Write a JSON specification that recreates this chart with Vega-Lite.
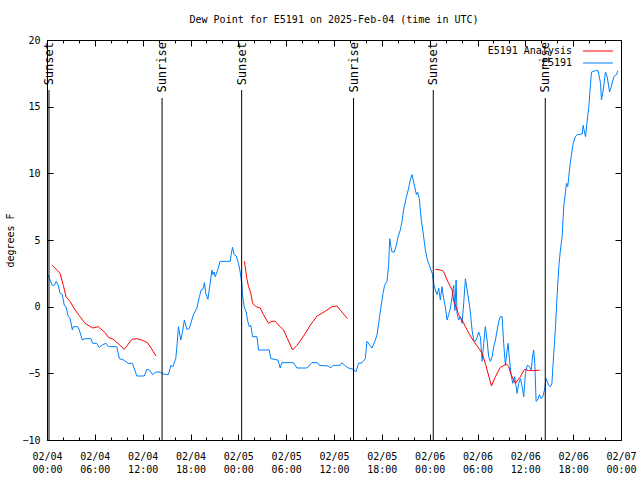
{
"$schema": "https://vega.github.io/schema/vega-lite/v6.json",
"width": 574,
"height": 400,
"autosize": {"type": "none"},
"padding": {"left": 47, "top": 40, "right": 19, "bottom": 40},
"background": "white",
"title": {"text": "Dew Point for E5191 on 2025-Feb-04 (time in UTC)", "font": "DejaVu Sans Mono", "fontSize": 10, "fontWeight": "normal", "color": "black", "offset": 10, "anchor": "middle"},
"config": {
  "view": {"stroke": "black", "strokeWidth": 1},
  "axis": {"tickColor": "black", "labelColor": "black", "titleColor": "black", "domain": false, "grid": false, "labelFont": "DejaVu Sans Mono", "labelFontSize": 10, "titleFont": "DejaVu Sans Mono", "titleFontSize": 10, "titleFontWeight": "normal"}
},
"datasets": {
"obs": [
{"series":"E5191","segment":0,"time":"2025-02-04T00:10:00Z","dewpoint":2.37},
{"series":"E5191","segment":0,"time":"2025-02-04T00:23:00Z","dewpoint":2.0},
{"series":"E5191","segment":0,"time":"2025-02-04T00:40:00Z","dewpoint":1.6},
{"series":"E5191","segment":0,"time":"2025-02-04T00:55:00Z","dewpoint":1.6},
{"series":"E5191","segment":0,"time":"2025-02-04T01:10:00Z","dewpoint":1.9},
{"series":"E5191","segment":0,"time":"2025-02-04T01:25:00Z","dewpoint":1.6},
{"series":"E5191","segment":0,"time":"2025-02-04T01:38:00Z","dewpoint":1.0},
{"series":"E5191","segment":0,"time":"2025-02-04T01:55:00Z","dewpoint":0.9},
{"series":"E5191","segment":0,"time":"2025-02-04T02:10:00Z","dewpoint":0.1},
{"series":"E5191","segment":0,"time":"2025-02-04T02:23:00Z","dewpoint":0.0},
{"series":"E5191","segment":0,"time":"2025-02-04T02:40:00Z","dewpoint":-0.75},
{"series":"E5191","segment":0,"time":"2025-02-04T02:53:00Z","dewpoint":-0.85},
{"series":"E5191","segment":0,"time":"2025-02-04T03:11:00Z","dewpoint":-1.75},
{"series":"E5191","segment":0,"time":"2025-02-04T03:18:00Z","dewpoint":-1.5},
{"series":"E5191","segment":0,"time":"2025-02-04T03:51:00Z","dewpoint":-1.5},
{"series":"E5191","segment":0,"time":"2025-02-04T04:03:00Z","dewpoint":-1.75},
{"series":"E5191","segment":0,"time":"2025-02-04T04:26:00Z","dewpoint":-2.5},
{"series":"E5191","segment":0,"time":"2025-02-04T04:46:00Z","dewpoint":-2.4},
{"series":"E5191","segment":0,"time":"2025-02-04T05:31:00Z","dewpoint":-2.4},
{"series":"E5191","segment":0,"time":"2025-02-04T05:44:00Z","dewpoint":-2.75},
{"series":"E5191","segment":0,"time":"2025-02-04T06:14:00Z","dewpoint":-2.75},
{"series":"E5191","segment":0,"time":"2025-02-04T06:34:00Z","dewpoint":-3.05},
{"series":"E5191","segment":0,"time":"2025-02-04T07:00:00Z","dewpoint":-2.85},
{"series":"E5191","segment":0,"time":"2025-02-04T07:24:00Z","dewpoint":-2.75},
{"series":"E5191","segment":0,"time":"2025-02-04T07:42:00Z","dewpoint":-3.0},
{"series":"E5191","segment":0,"time":"2025-02-04T08:45:00Z","dewpoint":-3.0},
{"series":"E5191","segment":0,"time":"2025-02-04T09:05:00Z","dewpoint":-3.9},
{"series":"E5191","segment":0,"time":"2025-02-04T09:35:00Z","dewpoint":-4.0},
{"series":"E5191","segment":0,"time":"2025-02-04T10:12:00Z","dewpoint":-4.25},
{"series":"E5191","segment":0,"time":"2025-02-04T10:43:00Z","dewpoint":-4.25},
{"series":"E5191","segment":0,"time":"2025-02-04T11:16:00Z","dewpoint":-5.2},
{"series":"E5191","segment":0,"time":"2025-02-04T12:13:00Z","dewpoint":-5.2},
{"series":"E5191","segment":0,"time":"2025-02-04T12:31:00Z","dewpoint":-4.7},
{"series":"E5191","segment":0,"time":"2025-02-04T12:51:00Z","dewpoint":-4.75},
{"series":"E5191","segment":0,"time":"2025-02-04T13:16:00Z","dewpoint":-5.1},
{"series":"E5191","segment":0,"time":"2025-02-04T13:39:00Z","dewpoint":-4.9},
{"series":"E5191","segment":0,"time":"2025-02-04T14:11:00Z","dewpoint":-4.9},
{"series":"E5191","segment":0,"time":"2025-02-04T14:32:00Z","dewpoint":-5.05},
{"series":"E5191","segment":0,"time":"2025-02-04T15:14:00Z","dewpoint":-5.1},
{"series":"E5191","segment":0,"time":"2025-02-04T15:32:00Z","dewpoint":-4.4},
{"series":"E5191","segment":0,"time":"2025-02-04T15:47:00Z","dewpoint":-4.5},
{"series":"E5191","segment":0,"time":"2025-02-04T16:09:00Z","dewpoint":-3.9},
{"series":"E5191","segment":0,"time":"2025-02-04T16:17:00Z","dewpoint":-3.1},
{"series":"E5191","segment":0,"time":"2025-02-04T16:29:00Z","dewpoint":-1.5},
{"series":"E5191","segment":0,"time":"2025-02-04T16:47:00Z","dewpoint":-2.5},
{"series":"E5191","segment":0,"time":"2025-02-04T17:02:00Z","dewpoint":-1.75},
{"series":"E5191","segment":0,"time":"2025-02-04T17:14:00Z","dewpoint":-1.0},
{"series":"E5191","segment":0,"time":"2025-02-04T17:32:00Z","dewpoint":-1.7},
{"series":"E5191","segment":0,"time":"2025-02-04T17:50:00Z","dewpoint":-1.65},
{"series":"E5191","segment":0,"time":"2025-02-04T18:10:00Z","dewpoint":-1.0},
{"series":"E5191","segment":0,"time":"2025-02-04T18:22:00Z","dewpoint":-0.6},
{"series":"E5191","segment":0,"time":"2025-02-04T18:48:00Z","dewpoint":-0.1},
{"series":"E5191","segment":0,"time":"2025-02-04T19:07:00Z","dewpoint":0.75},
{"series":"E5191","segment":0,"time":"2025-02-04T19:20:00Z","dewpoint":1.25},
{"series":"E5191","segment":0,"time":"2025-02-04T19:33:00Z","dewpoint":1.3},
{"series":"E5191","segment":0,"time":"2025-02-04T19:45:00Z","dewpoint":1.8},
{"series":"E5191","segment":0,"time":"2025-02-04T19:55:00Z","dewpoint":1.0},
{"series":"E5191","segment":0,"time":"2025-02-04T20:11:00Z","dewpoint":0.55},
{"series":"E5191","segment":0,"time":"2025-02-04T20:23:00Z","dewpoint":1.4},
{"series":"E5191","segment":0,"time":"2025-02-04T20:41:00Z","dewpoint":2.75},
{"series":"E5191","segment":0,"time":"2025-02-04T20:48:00Z","dewpoint":2.4},
{"series":"E5191","segment":0,"time":"2025-02-04T20:58:00Z","dewpoint":2.6},
{"series":"E5191","segment":0,"time":"2025-02-04T21:06:00Z","dewpoint":2.25},
{"series":"E5191","segment":0,"time":"2025-02-04T21:23:00Z","dewpoint":2.7},
{"series":"E5191","segment":0,"time":"2025-02-04T21:43:00Z","dewpoint":3.4},
{"series":"E5191","segment":0,"time":"2025-02-04T22:59:00Z","dewpoint":3.4},
{"series":"E5191","segment":0,"time":"2025-02-04T23:06:00Z","dewpoint":3.9},
{"series":"E5191","segment":0,"time":"2025-02-04T23:16:00Z","dewpoint":4.45},
{"series":"E5191","segment":0,"time":"2025-02-04T23:29:00Z","dewpoint":3.9},
{"series":"E5191","segment":0,"time":"2025-02-04T23:44:00Z","dewpoint":3.8},
{"series":"E5191","segment":0,"time":"2025-02-05T00:01:00Z","dewpoint":3.25},
{"series":"E5191","segment":0,"time":"2025-02-05T00:14:00Z","dewpoint":2.6},
{"series":"E5191","segment":0,"time":"2025-02-05T00:27:00Z","dewpoint":1.6},
{"series":"E5191","segment":0,"time":"2025-02-05T00:31:00Z","dewpoint":0.9},
{"series":"E5191","segment":0,"time":"2025-02-05T00:44:00Z","dewpoint":0.0},
{"series":"E5191","segment":0,"time":"2025-02-05T00:59:00Z","dewpoint":-0.4},
{"series":"E5191","segment":0,"time":"2025-02-05T01:09:00Z","dewpoint":-1.0},
{"series":"E5191","segment":0,"time":"2025-02-05T01:22:00Z","dewpoint":-1.5},
{"series":"E5191","segment":0,"time":"2025-02-05T01:34:00Z","dewpoint":-1.4},
{"series":"E5191","segment":0,"time":"2025-02-05T01:47:00Z","dewpoint":-2.25},
{"series":"E5191","segment":0,"time":"2025-02-05T02:20:00Z","dewpoint":-2.25},
{"series":"E5191","segment":0,"time":"2025-02-05T02:32:00Z","dewpoint":-3.25},
{"series":"E5191","segment":0,"time":"2025-02-05T03:52:00Z","dewpoint":-3.25},
{"series":"E5191","segment":0,"time":"2025-02-05T04:05:00Z","dewpoint":-3.9},
{"series":"E5191","segment":0,"time":"2025-02-05T04:58:00Z","dewpoint":-4.0},
{"series":"E5191","segment":0,"time":"2025-02-05T05:15:00Z","dewpoint":-4.6},
{"series":"E5191","segment":0,"time":"2025-02-05T05:28:00Z","dewpoint":-4.2},
{"series":"E5191","segment":0,"time":"2025-02-05T06:55:00Z","dewpoint":-4.2},
{"series":"E5191","segment":0,"time":"2025-02-05T07:21:00Z","dewpoint":-4.6},
{"series":"E5191","segment":0,"time":"2025-02-05T08:36:00Z","dewpoint":-4.6},
{"series":"E5191","segment":0,"time":"2025-02-05T09:14:00Z","dewpoint":-4.2},
{"series":"E5191","segment":0,"time":"2025-02-05T09:56:00Z","dewpoint":-4.2},
{"series":"E5191","segment":0,"time":"2025-02-05T10:09:00Z","dewpoint":-4.4},
{"series":"E5191","segment":0,"time":"2025-02-05T11:19:00Z","dewpoint":-4.45},
{"series":"E5191","segment":0,"time":"2025-02-05T11:32:00Z","dewpoint":-4.6},
{"series":"E5191","segment":0,"time":"2025-02-05T11:57:00Z","dewpoint":-4.4},
{"series":"E5191","segment":0,"time":"2025-02-05T12:47:00Z","dewpoint":-4.4},
{"series":"E5191","segment":0,"time":"2025-02-05T13:00:00Z","dewpoint":-4.2},
{"series":"E5191","segment":0,"time":"2025-02-05T13:25:00Z","dewpoint":-4.45},
{"series":"E5191","segment":0,"time":"2025-02-05T13:50:00Z","dewpoint":-4.6},
{"series":"E5191","segment":0,"time":"2025-02-05T14:27:00Z","dewpoint":-4.7},
{"series":"E5191","segment":0,"time":"2025-02-05T14:45:00Z","dewpoint":-4.9},
{"series":"E5191","segment":0,"time":"2025-02-05T15:05:00Z","dewpoint":-4.25},
{"series":"E5191","segment":0,"time":"2025-02-05T15:31:00Z","dewpoint":-4.2},
{"series":"E5191","segment":0,"time":"2025-02-05T15:56:00Z","dewpoint":-3.9},
{"series":"E5191","segment":0,"time":"2025-02-05T16:08:00Z","dewpoint":-2.6},
{"series":"E5191","segment":0,"time":"2025-02-05T16:26:00Z","dewpoint":-2.85},
{"series":"E5191","segment":0,"time":"2025-02-05T16:46:00Z","dewpoint":-3.1},
{"series":"E5191","segment":0,"time":"2025-02-05T17:11:00Z","dewpoint":-2.5},
{"series":"E5191","segment":0,"time":"2025-02-05T17:24:00Z","dewpoint":-2.1},
{"series":"E5191","segment":0,"time":"2025-02-05T17:36:00Z","dewpoint":-1.25},
{"series":"E5191","segment":0,"time":"2025-02-05T17:48:00Z","dewpoint":-0.4},
{"series":"E5191","segment":0,"time":"2025-02-05T18:09:00Z","dewpoint":1.0},
{"series":"E5191","segment":0,"time":"2025-02-05T18:21:00Z","dewpoint":1.6},
{"series":"E5191","segment":0,"time":"2025-02-05T18:39:00Z","dewpoint":1.9},
{"series":"E5191","segment":0,"time":"2025-02-05T18:51:00Z","dewpoint":3.1},
{"series":"E5191","segment":0,"time":"2025-02-05T18:59:00Z","dewpoint":5.1},
{"series":"E5191","segment":0,"time":"2025-02-05T19:09:00Z","dewpoint":4.45},
{"series":"E5191","segment":0,"time":"2025-02-05T19:17:00Z","dewpoint":4.1},
{"series":"E5191","segment":0,"time":"2025-02-05T19:34:00Z","dewpoint":4.1},
{"series":"E5191","segment":0,"time":"2025-02-05T19:49:00Z","dewpoint":4.6},
{"series":"E5191","segment":0,"time":"2025-02-05T20:02:00Z","dewpoint":5.25},
{"series":"E5191","segment":0,"time":"2025-02-05T20:19:00Z","dewpoint":5.75},
{"series":"E5191","segment":0,"time":"2025-02-05T20:32:00Z","dewpoint":6.4},
{"series":"E5191","segment":0,"time":"2025-02-05T20:44:00Z","dewpoint":7.25},
{"series":"E5191","segment":0,"time":"2025-02-05T21:02:00Z","dewpoint":8.1},
{"series":"E5191","segment":0,"time":"2025-02-05T21:22:00Z","dewpoint":8.9},
{"series":"E5191","segment":0,"time":"2025-02-05T21:34:00Z","dewpoint":9.5},
{"series":"E5191","segment":0,"time":"2025-02-05T21:47:00Z","dewpoint":9.9},
{"series":"E5191","segment":0,"time":"2025-02-05T21:59:00Z","dewpoint":9.4},
{"series":"E5191","segment":0,"time":"2025-02-05T22:20:00Z","dewpoint":8.4},
{"series":"E5191","segment":0,"time":"2025-02-05T22:29:00Z","dewpoint":8.6},
{"series":"E5191","segment":0,"time":"2025-02-05T22:42:00Z","dewpoint":8.1},
{"series":"E5191","segment":0,"time":"2025-02-05T22:57:00Z","dewpoint":6.5},
{"series":"E5191","segment":0,"time":"2025-02-05T23:10:00Z","dewpoint":5.6},
{"series":"E5191","segment":0,"time":"2025-02-05T23:27:00Z","dewpoint":4.3},
{"series":"E5191","segment":0,"time":"2025-02-05T23:43:00Z","dewpoint":3.5},
{"series":"E5191","segment":0,"time":"2025-02-06T00:05:00Z","dewpoint":2.9},
{"series":"E5191","segment":0,"time":"2025-02-06T00:22:00Z","dewpoint":2.4},
{"series":"E5191","segment":0,"time":"2025-02-06T00:30:00Z","dewpoint":1.75},
{"series":"E5191","segment":0,"time":"2025-02-06T00:43:00Z","dewpoint":1.25},
{"series":"E5191","segment":0,"time":"2025-02-06T00:56:00Z","dewpoint":0.9},
{"series":"E5191","segment":0,"time":"2025-02-06T01:08:00Z","dewpoint":1.4},
{"series":"E5191","segment":0,"time":"2025-02-06T01:20:00Z","dewpoint":0.5},
{"series":"E5191","segment":0,"time":"2025-02-06T01:33:00Z","dewpoint":1.5},
{"series":"E5191","segment":0,"time":"2025-02-06T01:45:00Z","dewpoint":0.6},
{"series":"E5191","segment":0,"time":"2025-02-06T01:58:00Z","dewpoint":0.0},
{"series":"E5191","segment":0,"time":"2025-02-06T02:11:00Z","dewpoint":-1.0},
{"series":"E5191","segment":0,"time":"2025-02-06T02:23:00Z","dewpoint":-0.6},
{"series":"E5191","segment":0,"time":"2025-02-06T02:36:00Z","dewpoint":-0.1},
{"series":"E5191","segment":0,"time":"2025-02-06T02:49:00Z","dewpoint":0.75},
{"series":"E5191","segment":0,"time":"2025-02-06T03:01:00Z","dewpoint":1.6},
{"series":"E5191","segment":0,"time":"2025-02-06T03:10:00Z","dewpoint":-0.3},
{"series":"E5191","segment":0,"time":"2025-02-06T03:19:00Z","dewpoint":2.0},
{"series":"E5191","segment":0,"time":"2025-02-06T03:26:00Z","dewpoint":-0.5},
{"series":"E5191","segment":0,"time":"2025-02-06T03:38:00Z","dewpoint":-1.0},
{"series":"E5191","segment":0,"time":"2025-02-06T03:51:00Z","dewpoint":-0.75},
{"series":"E5191","segment":0,"time":"2025-02-06T04:04:00Z","dewpoint":-1.25},
{"series":"E5191","segment":0,"time":"2025-02-06T04:16:00Z","dewpoint":0.25},
{"series":"E5191","segment":0,"time":"2025-02-06T04:29:00Z","dewpoint":2.1},
{"series":"E5191","segment":0,"time":"2025-02-06T04:42:00Z","dewpoint":1.25},
{"series":"E5191","segment":0,"time":"2025-02-06T04:54:00Z","dewpoint":0.5},
{"series":"E5191","segment":0,"time":"2025-02-06T05:06:00Z","dewpoint":-0.4},
{"series":"E5191","segment":0,"time":"2025-02-06T05:19:00Z","dewpoint":-1.75},
{"series":"E5191","segment":0,"time":"2025-02-06T05:31:00Z","dewpoint":-2.5},
{"series":"E5191","segment":0,"time":"2025-02-06T05:44:00Z","dewpoint":-2.6},
{"series":"E5191","segment":0,"time":"2025-02-06T05:57:00Z","dewpoint":-2.3},
{"series":"E5191","segment":0,"time":"2025-02-06T06:09:00Z","dewpoint":-1.9},
{"series":"E5191","segment":0,"time":"2025-02-06T06:22:00Z","dewpoint":-2.3},
{"series":"E5191","segment":0,"time":"2025-02-06T06:35:00Z","dewpoint":-4.1},
{"series":"E5191","segment":0,"time":"2025-02-06T06:47:00Z","dewpoint":-2.75},
{"series":"E5191","segment":0,"time":"2025-02-06T06:59:00Z","dewpoint":-1.5},
{"series":"E5191","segment":0,"time":"2025-02-06T07:12:00Z","dewpoint":-2.5},
{"series":"E5191","segment":0,"time":"2025-02-06T07:24:00Z","dewpoint":-3.75},
{"series":"E5191","segment":0,"time":"2025-02-06T07:37:00Z","dewpoint":-4.1},
{"series":"E5191","segment":0,"time":"2025-02-06T07:50:00Z","dewpoint":-3.75},
{"series":"E5191","segment":0,"time":"2025-02-06T08:02:00Z","dewpoint":-3.0},
{"series":"E5191","segment":0,"time":"2025-02-06T08:15:00Z","dewpoint":-2.5},
{"series":"E5191","segment":0,"time":"2025-02-06T08:28:00Z","dewpoint":-1.75},
{"series":"E5191","segment":0,"time":"2025-02-06T08:40:00Z","dewpoint":-1.1},
{"series":"E5191","segment":0,"time":"2025-02-06T08:52:00Z","dewpoint":-0.75},
{"series":"E5191","segment":0,"time":"2025-02-06T09:05:00Z","dewpoint":-0.75},
{"series":"E5191","segment":0,"time":"2025-02-06T09:17:00Z","dewpoint":-2.75},
{"series":"E5191","segment":0,"time":"2025-02-06T09:30:00Z","dewpoint":-4.4},
{"series":"E5191","segment":0,"time":"2025-02-06T09:43:00Z","dewpoint":-3.25},
{"series":"E5191","segment":0,"time":"2025-02-06T09:50:00Z","dewpoint":-2.75},
{"series":"E5191","segment":0,"time":"2025-02-06T10:00:00Z","dewpoint":-3.9},
{"series":"E5191","segment":0,"time":"2025-02-06T10:13:00Z","dewpoint":-5.1},
{"series":"E5191","segment":0,"time":"2025-02-06T10:25:00Z","dewpoint":-5.75},
{"series":"E5191","segment":0,"time":"2025-02-06T10:40:00Z","dewpoint":-5.25},
{"series":"E5191","segment":0,"time":"2025-02-06T10:58:00Z","dewpoint":-6.5},
{"series":"E5191","segment":0,"time":"2025-02-06T11:10:00Z","dewpoint":-5.75},
{"series":"E5191","segment":0,"time":"2025-02-06T11:23:00Z","dewpoint":-5.4},
{"series":"E5191","segment":0,"time":"2025-02-06T11:36:00Z","dewpoint":-6.0},
{"series":"E5191","segment":0,"time":"2025-02-06T11:48:00Z","dewpoint":-6.75},
{"series":"E5191","segment":0,"time":"2025-02-06T12:01:00Z","dewpoint":-5.0},
{"series":"E5191","segment":0,"time":"2025-02-06T12:14:00Z","dewpoint":-4.4},
{"series":"E5191","segment":0,"time":"2025-02-06T12:31:00Z","dewpoint":-4.5},
{"series":"E5191","segment":0,"time":"2025-02-06T12:44:00Z","dewpoint":-4.75},
{"series":"E5191","segment":0,"time":"2025-02-06T12:56:00Z","dewpoint":-3.6},
{"series":"E5191","segment":0,"time":"2025-02-06T13:03:00Z","dewpoint":-3.25},
{"series":"E5191","segment":0,"time":"2025-02-06T13:11:00Z","dewpoint":-4.25},
{"series":"E5191","segment":0,"time":"2025-02-06T13:21:00Z","dewpoint":-7.1},
{"series":"E5191","segment":0,"time":"2025-02-06T13:33:00Z","dewpoint":-7.0},
{"series":"E5191","segment":0,"time":"2025-02-06T13:46:00Z","dewpoint":-6.6},
{"series":"E5191","segment":0,"time":"2025-02-06T13:59:00Z","dewpoint":-6.9},
{"series":"E5191","segment":0,"time":"2025-02-06T14:11:00Z","dewpoint":-6.75},
{"series":"E5191","segment":0,"time":"2025-02-06T14:24:00Z","dewpoint":-6.25},
{"series":"E5191","segment":0,"time":"2025-02-06T14:37:00Z","dewpoint":-5.4},
{"series":"E5191","segment":0,"time":"2025-02-06T14:56:00Z","dewpoint":-5.9},
{"series":"E5191","segment":0,"time":"2025-02-06T15:09:00Z","dewpoint":-6.0},
{"series":"E5191","segment":0,"time":"2025-02-06T15:20:00Z","dewpoint":-5.75},
{"series":"E5191","segment":0,"time":"2025-02-06T15:29:00Z","dewpoint":-4.25},
{"series":"E5191","segment":0,"time":"2025-02-06T15:39:00Z","dewpoint":-2.75},
{"series":"E5191","segment":0,"time":"2025-02-06T15:47:00Z","dewpoint":-1.5},
{"series":"E5191","segment":0,"time":"2025-02-06T16:00:00Z","dewpoint":1.0},
{"series":"E5191","segment":0,"time":"2025-02-06T16:12:00Z","dewpoint":3.0},
{"series":"E5191","segment":0,"time":"2025-02-06T16:24:00Z","dewpoint":4.25},
{"series":"E5191","segment":0,"time":"2025-02-06T16:37:00Z","dewpoint":5.25},
{"series":"E5191","segment":0,"time":"2025-02-06T16:49:00Z","dewpoint":7.5},
{"series":"E5191","segment":0,"time":"2025-02-06T17:02:00Z","dewpoint":8.6},
{"series":"E5191","segment":0,"time":"2025-02-06T17:10:00Z","dewpoint":9.25},
{"series":"E5191","segment":0,"time":"2025-02-06T17:19:00Z","dewpoint":9.0},
{"series":"E5191","segment":0,"time":"2025-02-06T17:35:00Z","dewpoint":10.5},
{"series":"E5191","segment":0,"time":"2025-02-06T17:45:00Z","dewpoint":11.25},
{"series":"E5191","segment":0,"time":"2025-02-06T18:00:00Z","dewpoint":12.25},
{"series":"E5191","segment":0,"time":"2025-02-06T18:17:00Z","dewpoint":12.75},
{"series":"E5191","segment":0,"time":"2025-02-06T18:30:00Z","dewpoint":12.9},
{"series":"E5191","segment":0,"time":"2025-02-06T19:08:00Z","dewpoint":12.95},
{"series":"E5191","segment":0,"time":"2025-02-06T19:15:00Z","dewpoint":13.6},
{"series":"E5191","segment":0,"time":"2025-02-06T19:25:00Z","dewpoint":13.1},
{"series":"E5191","segment":0,"time":"2025-02-06T19:33:00Z","dewpoint":12.75},
{"series":"E5191","segment":0,"time":"2025-02-06T19:46:00Z","dewpoint":14.0},
{"series":"E5191","segment":0,"time":"2025-02-06T19:58:00Z","dewpoint":15.0},
{"series":"E5191","segment":0,"time":"2025-02-06T20:05:00Z","dewpoint":16.0},
{"series":"E5191","segment":0,"time":"2025-02-06T20:18:00Z","dewpoint":17.6},
{"series":"E5191","segment":0,"time":"2025-02-06T20:48:00Z","dewpoint":17.7},
{"series":"E5191","segment":0,"time":"2025-02-06T21:08:00Z","dewpoint":17.7},
{"series":"E5191","segment":0,"time":"2025-02-06T21:26:00Z","dewpoint":16.75},
{"series":"E5191","segment":0,"time":"2025-02-06T21:33:00Z","dewpoint":15.5},
{"series":"E5191","segment":0,"time":"2025-02-06T21:46:00Z","dewpoint":16.25},
{"series":"E5191","segment":0,"time":"2025-02-06T22:03:00Z","dewpoint":17.6},
{"series":"E5191","segment":0,"time":"2025-02-06T22:16:00Z","dewpoint":17.25},
{"series":"E5191","segment":0,"time":"2025-02-06T22:34:00Z","dewpoint":16.1},
{"series":"E5191","segment":0,"time":"2025-02-06T22:49:00Z","dewpoint":16.6},
{"series":"E5191","segment":0,"time":"2025-02-06T23:06:00Z","dewpoint":17.25},
{"series":"E5191","segment":0,"time":"2025-02-06T23:26:00Z","dewpoint":17.4},
{"series":"E5191","segment":0,"time":"2025-02-06T23:36:00Z","dewpoint":17.7},
{"series":"E5191 Analysis","segment":1,"time":"2025-02-04T00:40:00Z","dewpoint":3.1},
{"series":"E5191 Analysis","segment":1,"time":"2025-02-04T01:38:00Z","dewpoint":2.5},
{"series":"E5191 Analysis","segment":1,"time":"2025-02-04T02:03:00Z","dewpoint":1.6},
{"series":"E5191 Analysis","segment":1,"time":"2025-02-04T02:23:00Z","dewpoint":0.75},
{"series":"E5191 Analysis","segment":1,"time":"2025-02-04T02:53:00Z","dewpoint":0.4},
{"series":"E5191 Analysis","segment":1,"time":"2025-02-04T03:31:00Z","dewpoint":-0.25},
{"series":"E5191 Analysis","segment":1,"time":"2025-02-04T04:09:00Z","dewpoint":-0.75},
{"series":"E5191 Analysis","segment":1,"time":"2025-02-04T04:46:00Z","dewpoint":-1.25},
{"series":"E5191 Analysis","segment":1,"time":"2025-02-04T05:44:00Z","dewpoint":-1.6},
{"series":"E5191 Analysis","segment":1,"time":"2025-02-04T06:26:00Z","dewpoint":-1.5},
{"series":"E5191 Analysis","segment":1,"time":"2025-02-04T07:17:00Z","dewpoint":-1.95},
{"series":"E5191 Analysis","segment":1,"time":"2025-02-04T07:42:00Z","dewpoint":-2.3},
{"series":"E5191 Analysis","segment":1,"time":"2025-02-04T08:19:00Z","dewpoint":-2.45},
{"series":"E5191 Analysis","segment":1,"time":"2025-02-04T09:10:00Z","dewpoint":-2.9},
{"series":"E5191 Analysis","segment":1,"time":"2025-02-04T09:42:00Z","dewpoint":-3.2},
{"series":"E5191 Analysis","segment":1,"time":"2025-02-04T10:38:00Z","dewpoint":-2.45},
{"series":"E5191 Analysis","segment":1,"time":"2025-02-04T11:16:00Z","dewpoint":-2.4},
{"series":"E5191 Analysis","segment":1,"time":"2025-02-04T11:53:00Z","dewpoint":-2.5},
{"series":"E5191 Analysis","segment":1,"time":"2025-02-04T12:36:00Z","dewpoint":-2.7},
{"series":"E5191 Analysis","segment":1,"time":"2025-02-04T13:03:00Z","dewpoint":-3.1},
{"series":"E5191 Analysis","segment":1,"time":"2025-02-04T13:41:00Z","dewpoint":-3.7},
{"series":"E5191 Analysis","segment":2,"time":"2025-02-05T00:46:00Z","dewpoint":3.4},
{"series":"E5191 Analysis","segment":2,"time":"2025-02-05T01:04:00Z","dewpoint":2.1},
{"series":"E5191 Analysis","segment":2,"time":"2025-02-05T01:17:00Z","dewpoint":1.5},
{"series":"E5191 Analysis","segment":2,"time":"2025-02-05T01:34:00Z","dewpoint":1.0},
{"series":"E5191 Analysis","segment":2,"time":"2025-02-05T01:47:00Z","dewpoint":0.25},
{"series":"E5191 Analysis","segment":2,"time":"2025-02-05T02:14:00Z","dewpoint":0.0},
{"series":"E5191 Analysis","segment":2,"time":"2025-02-05T02:45:00Z","dewpoint":-0.1},
{"series":"E5191 Analysis","segment":2,"time":"2025-02-05T03:09:00Z","dewpoint":-0.6},
{"series":"E5191 Analysis","segment":2,"time":"2025-02-05T03:47:00Z","dewpoint":-1.25},
{"series":"E5191 Analysis","segment":2,"time":"2025-02-05T04:13:00Z","dewpoint":-1.1},
{"series":"E5191 Analysis","segment":2,"time":"2025-02-05T04:38:00Z","dewpoint":-1.1},
{"series":"E5191 Analysis","segment":2,"time":"2025-02-05T05:10:00Z","dewpoint":-1.45},
{"series":"E5191 Analysis","segment":2,"time":"2025-02-05T05:40:00Z","dewpoint":-1.75},
{"series":"E5191 Analysis","segment":2,"time":"2025-02-05T06:10:00Z","dewpoint":-2.4},
{"series":"E5191 Analysis","segment":2,"time":"2025-02-05T06:48:00Z","dewpoint":-3.25},
{"series":"E5191 Analysis","segment":2,"time":"2025-02-05T07:21:00Z","dewpoint":-2.9},
{"series":"E5191 Analysis","segment":2,"time":"2025-02-05T07:51:00Z","dewpoint":-2.5},
{"series":"E5191 Analysis","segment":2,"time":"2025-02-05T08:24:00Z","dewpoint":-2.0},
{"series":"E5191 Analysis","segment":2,"time":"2025-02-05T09:01:00Z","dewpoint":-1.4},
{"series":"E5191 Analysis","segment":2,"time":"2025-02-05T09:52:00Z","dewpoint":-0.7},
{"series":"E5191 Analysis","segment":2,"time":"2025-02-05T10:37:00Z","dewpoint":-0.45},
{"series":"E5191 Analysis","segment":2,"time":"2025-02-05T11:15:00Z","dewpoint":-0.2},
{"series":"E5191 Analysis","segment":2,"time":"2025-02-05T11:45:00Z","dewpoint":0.0},
{"series":"E5191 Analysis","segment":2,"time":"2025-02-05T12:22:00Z","dewpoint":0.05},
{"series":"E5191 Analysis","segment":2,"time":"2025-02-05T12:47:00Z","dewpoint":-0.25},
{"series":"E5191 Analysis","segment":2,"time":"2025-02-05T13:12:00Z","dewpoint":-0.55},
{"series":"E5191 Analysis","segment":2,"time":"2025-02-05T13:42:00Z","dewpoint":-0.9},
{"series":"E5191 Analysis","segment":3,"time":"2025-02-06T00:43:00Z","dewpoint":2.8},
{"series":"E5191 Analysis","segment":3,"time":"2025-02-06T01:20:00Z","dewpoint":2.75},
{"series":"E5191 Analysis","segment":3,"time":"2025-02-06T01:38:00Z","dewpoint":2.7},
{"series":"E5191 Analysis","segment":3,"time":"2025-02-06T01:51:00Z","dewpoint":2.5},
{"series":"E5191 Analysis","segment":3,"time":"2025-02-06T02:11:00Z","dewpoint":2.0},
{"series":"E5191 Analysis","segment":3,"time":"2025-02-06T02:31:00Z","dewpoint":1.6},
{"series":"E5191 Analysis","segment":3,"time":"2025-02-06T02:49:00Z","dewpoint":1.25},
{"series":"E5191 Analysis","segment":3,"time":"2025-02-06T03:01:00Z","dewpoint":0.4},
{"series":"E5191 Analysis","segment":3,"time":"2025-02-06T03:21:00Z","dewpoint":-0.1},
{"series":"E5191 Analysis","segment":3,"time":"2025-02-06T03:38:00Z","dewpoint":-0.6},
{"series":"E5191 Analysis","segment":3,"time":"2025-02-06T04:04:00Z","dewpoint":-1.0},
{"series":"E5191 Analysis","segment":3,"time":"2025-02-06T04:29:00Z","dewpoint":-1.5},
{"series":"E5191 Analysis","segment":3,"time":"2025-02-06T05:01:00Z","dewpoint":-2.1},
{"series":"E5191 Analysis","segment":3,"time":"2025-02-06T05:31:00Z","dewpoint":-2.6},
{"series":"E5191 Analysis","segment":3,"time":"2025-02-06T06:09:00Z","dewpoint":-3.1},
{"series":"E5191 Analysis","segment":3,"time":"2025-02-06T06:35:00Z","dewpoint":-3.5},
{"series":"E5191 Analysis","segment":3,"time":"2025-02-06T06:59:00Z","dewpoint":-4.25},
{"series":"E5191 Analysis","segment":3,"time":"2025-02-06T07:45:00Z","dewpoint":-5.95},
{"series":"E5191 Analysis","segment":3,"time":"2025-02-06T08:15:00Z","dewpoint":-5.25},
{"series":"E5191 Analysis","segment":3,"time":"2025-02-06T08:52:00Z","dewpoint":-4.55},
{"series":"E5191 Analysis","segment":3,"time":"2025-02-06T09:38:00Z","dewpoint":-4.3},
{"series":"E5191 Analysis","segment":3,"time":"2025-02-06T09:55:00Z","dewpoint":-4.5},
{"series":"E5191 Analysis","segment":3,"time":"2025-02-06T10:13:00Z","dewpoint":-5.1},
{"series":"E5191 Analysis","segment":3,"time":"2025-02-06T10:45:00Z","dewpoint":-5.75},
{"series":"E5191 Analysis","segment":3,"time":"2025-02-06T11:23:00Z","dewpoint":-5.25},
{"series":"E5191 Analysis","segment":3,"time":"2025-02-06T11:53:00Z","dewpoint":-4.7},
{"series":"E5191 Analysis","segment":3,"time":"2025-02-06T12:26:00Z","dewpoint":-4.8},
{"series":"E5191 Analysis","segment":3,"time":"2025-02-06T13:03:00Z","dewpoint":-4.8},
{"series":"E5191 Analysis","segment":3,"time":"2025-02-06T13:49:00Z","dewpoint":-4.75}
],
"sun": [
{"event":"Sunset","time":"2025-02-04T00:15:00Z"},
{"event":"Sunrise","time":"2025-02-04T14:26:00Z"},
{"event":"Sunset","time":"2025-02-05T00:25:00Z"},
{"event":"Sunrise","time":"2025-02-05T14:27:00Z"},
{"event":"Sunset","time":"2025-02-06T00:27:00Z"},
{"event":"Sunrise","time":"2025-02-06T14:30:00Z"}
]
},
"resolve": {"axis": {"x": "independent", "y": "independent"}},
"layer": [
{
  "data": {"name": "obs"},
  "mark": {"type": "line", "strokeWidth": 1},
  "encoding": {
    "x": {"field": "time", "type": "temporal",
      "scale": {"type": "utc", "domain": [1738627200000, 1738886400000], "nice": false},
      "axis": {"orient": "bottom", "title": null,
        "values": [1738627200000, 1738648800000, 1738670400000, 1738692000000, 1738713600000, 1738735200000, 1738756800000, 1738778400000, 1738800000000, 1738821600000, 1738843200000, 1738864800000, 1738886400000],
        "tickSize": -6,
        "labelExpr": "[utcFormat(datum.value, '%m/%d'), utcFormat(datum.value, '%H:%M')]",
        "labelPadding": 17, "labelLineHeight": 13, "labelFlush": false, "labelOverlap": false, "labelBound": false}},
    "y": {"field": "dewpoint", "type": "quantitative",
      "scale": {"domain": [-10, 20], "nice": false, "zero": false},
      "axis": {"orient": "left", "values": [-10, -5, 0, 5, 10, 15, 20], "tickSize": -6, "labelPadding": 13, "title": "degrees F", "titlePadding": 6}},
    "color": {"field": "series", "type": "nominal",
      "scale": {"domain": ["E5191 Analysis", "E5191"], "range": ["#ff0000", "#0080ff"]},
      "legend": {"orient": "top-right", "title": null, "symbolType": "M-5,0L5,0", "symbolSize": 36, "symbolStrokeWidth": 1, "labelFont": "DejaVu Sans Mono", "labelFontSize": 10, "labelColor": "black", "labelAlign": "right", "labelOffset": -31, "offset": 6, "padding": 0, "rowPadding": 2}},
    "detail": {"field": "segment", "type": "nominal"}
  }
},
{
  "data": {"name": "sun"},
  "transform": [{"filter": "datum.event === 'Sunset'"}],
  "mark": {"type": "rule", "color": "black", "strokeWidth": 1},
  "encoding": {
    "x": {"field": "time", "type": "temporal",
      "axis": {"orient": "top", "title": null, "labels": false, "tickSize": -6,
        "values": [1738627200000, 1738648800000, 1738670400000, 1738692000000, 1738713600000, 1738735200000, 1738756800000, 1738778400000, 1738800000000, 1738821600000, 1738843200000, 1738864800000, 1738886400000]}},
    "y": {"datum": 16.25, "type": "quantitative",
      "axis": {"orient": "right", "title": null, "labels": false, "tickSize": -6, "values": [-10, -5, 0, 5, 10, 15, 20]}},
    "y2": {"datum": -10}
  }
},
{
  "data": {"name": "sun"},
  "transform": [{"filter": "datum.event === 'Sunrise'"}],
  "mark": {"type": "rule", "color": "black", "strokeWidth": 1},
  "encoding": {
    "x": {"field": "time", "type": "temporal",
      "axis": {"orient": "bottom", "title": null, "labels": false, "tickSize": -3,
        "values": [1738627200000, 1738634400000, 1738641600000, 1738648800000, 1738656000000, 1738663200000, 1738670400000, 1738677600000, 1738684800000, 1738692000000, 1738699200000, 1738706400000, 1738713600000, 1738720800000, 1738728000000, 1738735200000, 1738742400000, 1738749600000, 1738756800000, 1738764000000, 1738771200000, 1738778400000, 1738785600000, 1738792800000, 1738800000000, 1738807200000, 1738814400000, 1738821600000, 1738828800000, 1738836000000, 1738843200000, 1738850400000, 1738857600000, 1738864800000, 1738872000000, 1738879200000, 1738886400000]}},
    "y": {"datum": 15.65, "type": "quantitative", "axis": null},
    "y2": {"datum": -10}
  }
},
{
  "data": {"name": "sun"},
  "mark": {"type": "text", "angle": 270, "align": "right", "baseline": "middle", "dx": -2, "font": "DejaVu Sans Mono", "fontSize": 12, "color": "black"},
  "encoding": {
    "x": {"field": "time", "type": "temporal",
      "axis": {"orient": "top", "title": null, "labels": false, "tickSize": -3,
        "values": [1738627200000, 1738634400000, 1738641600000, 1738648800000, 1738656000000, 1738663200000, 1738670400000, 1738677600000, 1738684800000, 1738692000000, 1738699200000, 1738706400000, 1738713600000, 1738720800000, 1738728000000, 1738735200000, 1738742400000, 1738749600000, 1738756800000, 1738764000000, 1738771200000, 1738778400000, 1738785600000, 1738792800000, 1738800000000, 1738807200000, 1738814400000, 1738821600000, 1738828800000, 1738836000000, 1738843200000, 1738850400000, 1738857600000, 1738864800000, 1738872000000, 1738879200000, 1738886400000]}},
    "y": {"datum": 20, "type": "quantitative", "axis": null},
    "text": {"field": "event"}
  }
}
]
}
